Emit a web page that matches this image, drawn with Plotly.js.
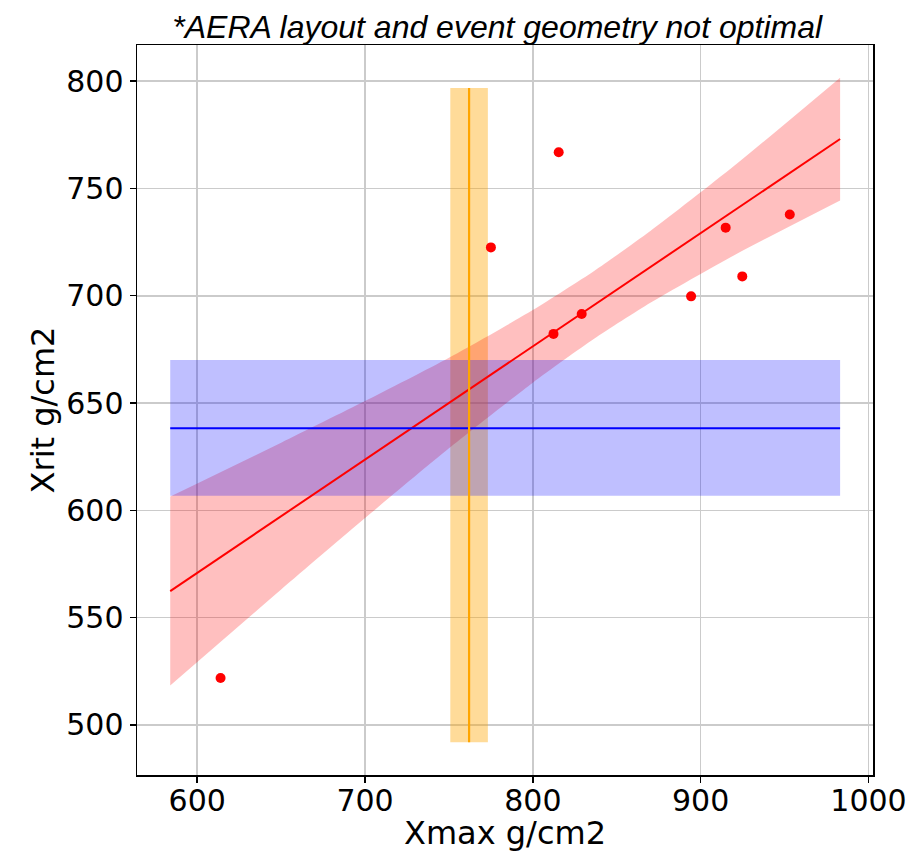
<!DOCTYPE html>
<html>
<head>
<meta charset="utf-8">
<script src="https://cdn.plot.ly/plotly-3.0.1.min.js"></script>
<style>
  html, body { margin: 0; padding: 0; background: #ffffff; }
  #chart { width: 919px; height: 852px; }
</style>
</head>
<body>
<div id="chart"></div>
<script>
// Measured events: depth of shower maximum vs. reconstructed Xrit
const xmax = [613.9, 775.0, 815.4, 812.3, 829.1, 894.3, 914.9, 924.8, 953.1];
const xrit = [521.9, 722.5, 766.8, 682.2, 691.5, 699.7, 731.7, 709.0, 737.8];

// Linear fit and its confidence band, sampled along Xmax
const bandX     = [583.9, 650.0, 700.0, 750.0, 800.0, 836.5, 870.0, 920.0, 983.1];
const fitY      = [562.4, 597.3, 623.7, 650.0, 676.4, 695.7, 713.4, 739.7, 773.0];
const bandUpper = [606.4, 631.5, 650.9, 671.1, 693.3, 711.5, 730.1, 760.5, 801.6];
const bandLower = [518.4, 563.1, 596.4, 628.9, 659.5, 679.9, 696.7, 718.9, 744.4];

// Mean Xrit with its spread (horizontal band)
const xritSpan  = [583.9, 983.1];
const xritMean  = [638.2, 638.2];
const xritBand  = [606.8, 670.0];

// Mean Xmax with its spread (vertical band)
const xmaxMean  = [762.0, 762.0];
const xmaxBand  = [750.8, 773.2];
const xmaxSpan  = [491.9, 796.8];

function rectangle(xs, ys) {
  return {
    x: [xs[0], xs[1], xs[1], xs[0], xs[0]],
    y: [ys[0], ys[0], ys[1], ys[1], ys[0]]
  };
}

const orangeRect = rectangle(xmaxBand, xmaxSpan);
const blueRect = rectangle(xritSpan, xritBand);

const traces = [
  {
    type: 'scatter', mode: 'lines', x: orangeRect.x, y: orangeRect.y,
    fill: 'toself', fillcolor: 'rgba(255,165,0,0.4)', line: { width: 0 },
    hoverinfo: 'skip', showlegend: false
  },
  {
    // lower edge of the fit band
    type: 'scatter', mode: 'lines', x: bandX, y: bandLower,
    line: { width: 0, shape: 'spline', smoothing: 0.6, color: 'rgba(0,0,0,0)' },
    hoverinfo: 'skip', showlegend: false
  },
  {
    // upper edge, filled down to the lower edge
    type: 'scatter', mode: 'lines', x: bandX, y: bandUpper,
    line: { width: 0, shape: 'spline', smoothing: 0.6, color: 'rgba(0,0,0,0)' },
    fill: 'tonexty', fillcolor: 'rgba(255,0,0,0.25)',
    hoverinfo: 'skip', showlegend: false
  },
  {
    type: 'scatter', mode: 'lines', x: blueRect.x, y: blueRect.y,
    fill: 'toself', fillcolor: 'rgba(0,0,255,0.25)', line: { width: 0 },
    hoverinfo: 'skip', showlegend: false
  },
  {
    type: 'scatter', mode: 'lines', x: [bandX[0], bandX[bandX.length - 1]],
    y: [fitY[0], fitY[fitY.length - 1]],
    line: { color: '#ff0000', width: 2 }, showlegend: false
  },
  {
    type: 'scatter', mode: 'lines', x: xritSpan, y: xritMean,
    line: { color: '#0000ff', width: 2 }, showlegend: false
  },
  {
    type: 'scatter', mode: 'lines', x: xmaxMean, y: xmaxSpan,
    line: { color: '#ffa500', width: 2.2 }, showlegend: false
  },
  {
    type: 'scatter', mode: 'markers', x: xmax, y: xrit,
    marker: { color: '#ff0000', size: 10 }, showlegend: false
  }
];

const axisCommon = {
  showline: true, linecolor: '#000000', linewidth: 1.5, mirror: true,
  ticks: 'outside', ticklen: 6, tickwidth: 1.5, tickcolor: '#000000',
  showgrid: true, gridcolor: '#cbcbcb', gridwidth: 1.6,
  zeroline: false,
  tickfont: { family: 'DejaVu Sans', size: 30, color: '#000000' }
};

const layout = {
  width: 919, height: 852,
  margin: { l: 137, r: 46, t: 45, b: 77 },
  paper_bgcolor: '#ffffff', plot_bgcolor: '#ffffff',
  showlegend: false,
  title: {
    text: '*AERA layout and event geometry not optimal',
    font: { family: 'Liberation Sans', size: 32, style: 'italic', color: '#000000' },
    xref: 'container', x: 0.541, xanchor: 'center',
    yref: 'container', y: 0.969, yanchor: 'middle'
  },
  xaxis: Object.assign({}, axisCommon, {
    range: [564.1, 1002.7],
    tickvals: [600, 700, 800, 900, 1000],
    ticklabelstandoff: -8,
    title: { text: 'Xmax g/cm2', font: { family: 'DejaVu Sans', size: 32, color: '#000000' }, standoff: 2 }
  }),
  yaxis: Object.assign({}, axisCommon, {
    range: [476.7, 816.8],
    tickvals: [500, 550, 600, 650, 700, 750, 800],
    title: { text: 'Xrit g/cm2', font: { family: 'DejaVu Sans', size: 32, color: '#000000' }, standoff: 2 }
  })
};

Plotly.newPlot('chart', traces, layout, { displayModeBar: false, staticPlot: true });
</script>
</body>
</html>
